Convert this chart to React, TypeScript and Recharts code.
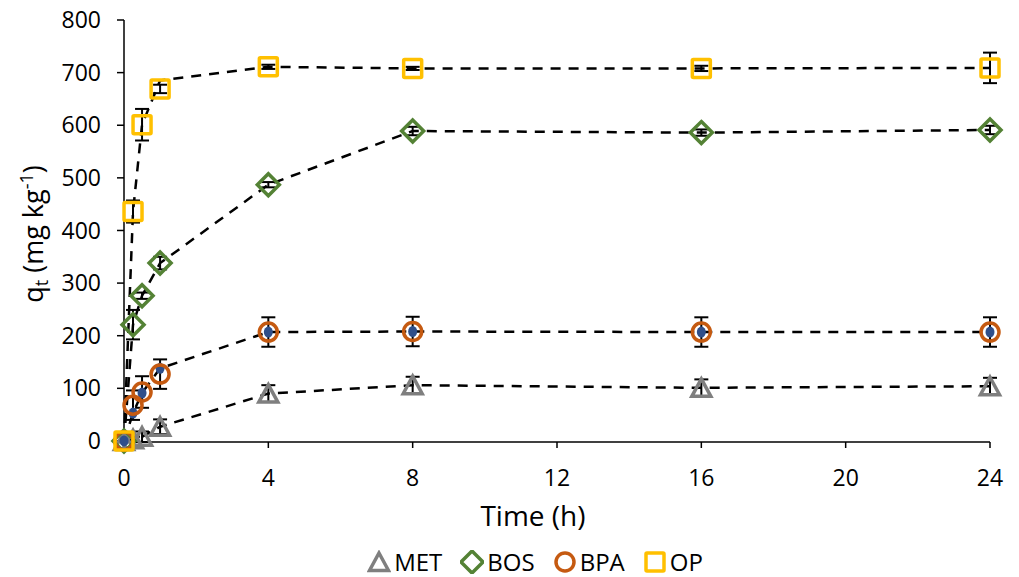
import React from 'react';
import {
  ComposedChart,
  Line,
  Scatter,
  ErrorBar,
  XAxis,
  YAxis,
  Label,
  Legend,
} from 'recharts';

// sampling times (h)
const times = [0, 0.25, 0.5, 1, 4, 8, 16, 24];

// measured q_t (mg kg-1) and std devs
const metValues = [0, 3, 8, 27, 90, 106, 101, 104];
const metErrors = [0, 5, 10, 14, 16, 16, 16, 16];
const bosValues = [0, 221, 276, 338, 487, 589, 586, 591];
const bosErrors = [0, 28, 6, 12, 5, 8, 6, 8];
const bpaValues = [0, 68, 93, 127, 207, 208, 207, 207];
const bpaErrors = [0, 28, 30, 28, 28, 28, 28, 28];
const bpaMean = [0, 53, 91, 138, 207, 208, 207, 207];
const opValues = [0, 436, 601, 669, 711, 708, 708, 709];
const opErrors = [0, 21, 30, 8, 4, 3, 5, 29];
const opLine = [0, 436, 601, 685, 711, 708, 708, 709];

const xTicks = [0, 4, 8, 12, 16, 20, 24];
const yTicks = [0, 100, 200, 300, 400, 500, 600, 700, 800];

const legendItems = [
  { key: 'met', label: 'MET' },
  { key: 'bos', label: 'BOS' },
  { key: 'bpa', label: 'BPA' },
  { key: 'op', label: 'OP' },
];

const GRAY = '#7f7f7f';
const GREEN = '#548235';
const ORANGE = '#c55a11';
const YELLOW = '#ffc000';
const BLUE = '#2f4f8a';
const FONT = '"Open Sans", sans-serif';

const rows = times.map((t, i) => ({
  t,
  met: metValues[i],
  metErr: metErrors[i],
  bos: bosValues[i],
  bosErr: bosErrors[i],
  bpa: bpaValues[i],
  bpaErr: bpaErrors[i],
  bpaMean: bpaMean[i],
  op: opValues[i],
  opErr: opErrors[i],
  opLine: opLine[i],
}));

function Triangle({ cx, cy }: any) {
  return <path d={`M${cx},${cy - 9} L${cx + 9.5},${cy + 8.5} L${cx - 9.5},${cy + 8.5} Z`} fill="none" stroke={GRAY} strokeWidth={3.5} />;
}
function Diamond({ cx, cy }: any) {
  return <path d={`M${cx},${cy - 11} L${cx + 11},${cy} L${cx},${cy + 11} L${cx - 11},${cy} Z`} fill="none" stroke={GREEN} strokeWidth={3.5} />;
}
function Ring({ cx, cy }: any) {
  return <circle cx={cx} cy={cy} r={9} fill="none" stroke={ORANGE} strokeWidth={3.5} />;
}
function Square({ cx, cy }: any) {
  return <rect x={cx - 9} y={cy - 9} width={18} height={18} rx={1} fill="none" stroke={YELLOW} strokeWidth={3.5} />;
}
function Dot({ cx, cy }: any) {
  return <ellipse cx={cx} cy={cy} rx={4.5} ry={5.5} fill={BLUE} />;
}

const icons: Record<string, (p: any) => React.ReactElement> = {
  met: Triangle,
  bos: Diamond,
  bpa: Ring,
  op: Square,
};

function LegendContent() {
  return (
    <div style={{ display: 'flex', justifyContent: 'center', alignItems: 'center', gap: 18, paddingLeft: 80, paddingTop: 8, fontFamily: FONT, fontSize: 24, color: '#000' }}>
      {legendItems.map((item) => {
        const Icon = icons[item.key];
        return (
          <div key={item.key} style={{ display: 'flex', alignItems: 'center', gap: 3 }}>
            <svg width={24} height={24}>
              <Icon cx={12} cy={12} />
            </svg>
            <span>{item.label}</span>
          </div>
        );
      })}
    </div>
  );
}

function XTitle() {
  return (
    <text x={533} y={526} textAnchor="middle" fontFamily={FONT} fontSize={28} fill="#000">
      Time (h)
    </text>
  );
}

function YTitle() {
  return (
    <text transform="translate(43,234) rotate(-90)" textAnchor="middle" fontFamily={FONT} fontSize={27} fill="#000">
      q<tspan fontSize={18} dy={5}>t</tspan>
      <tspan dy={-5}> (mg kg</tspan>
      <tspan fontSize={18} dy={-10}>-1</tspan>
      <tspan dy={10}>)</tspan>
    </text>
  );
}

const tickStyle = { fill: '#000', fontSize: 23, fontFamily: FONT };
const errProps = { width: 7, stroke: '#000', strokeWidth: 2, direction: 'y' as const };
const lineProps = { stroke: '#000', strokeWidth: 2.5, strokeDasharray: '10 8', dot: false, activeDot: false, isAnimationActive: false, legendType: 'none' as const };

export default function App() {
  return (
    <div style={{ position: 'absolute', left: 0, top: 0, background: '#fff' }}>
      <ComposedChart width={1019} height={577} data={rows} margin={{ top: 20, right: 29, bottom: 0, left: 0 }}>
        <XAxis
          type="number"
          dataKey="t"
          domain={[0, 24]}
          ticks={xTicks}
          height={95}
          tickSize={6}
          tickMargin={22}
          tick={tickStyle}
          axisLine={{ stroke: '#000', strokeWidth: 1.5 }}
          tickLine={{ stroke: '#000', strokeWidth: 1.5 }}
        >
          <Label content={<XTitle />} />
        </XAxis>
        <YAxis
          type="number"
          domain={[0, 800]}
          ticks={yTicks}
          width={124}
          tickSize={7}
          tickMargin={16}
          tick={tickStyle}
          axisLine={{ stroke: '#000', strokeWidth: 1.5 }}
          tickLine={{ stroke: '#000', strokeWidth: 1.5 }}
        >
          <Label content={<YTitle />} />
        </YAxis>
        <Legend verticalAlign="bottom" wrapperStyle={{ height: 40 }} content={<LegendContent />} />

        <Line dataKey="met" {...lineProps} />
        <Line dataKey="bos" {...lineProps} />
        <Line dataKey="bpaMean" {...lineProps} />
        <Line dataKey="opLine" {...lineProps} />

        <Scatter dataKey="met" shape={<Triangle />} isAnimationActive={false}>
          <ErrorBar dataKey="metErr" {...errProps} />
        </Scatter>
        <Scatter dataKey="bos" shape={<Diamond />} isAnimationActive={false}>
          <ErrorBar dataKey="bosErr" {...errProps} />
        </Scatter>
        <Scatter dataKey="bpaMean" shape={<Dot />} isAnimationActive={false} legendType="none" />
        <Scatter dataKey="bpa" shape={<Ring />} isAnimationActive={false}>
          <ErrorBar dataKey="bpaErr" {...errProps} />
        </Scatter>
        <Scatter dataKey="op" shape={<Square />} isAnimationActive={false}>
          <ErrorBar dataKey="opErr" {...errProps} />
        </Scatter>
      </ComposedChart>
    </div>
  );
}
